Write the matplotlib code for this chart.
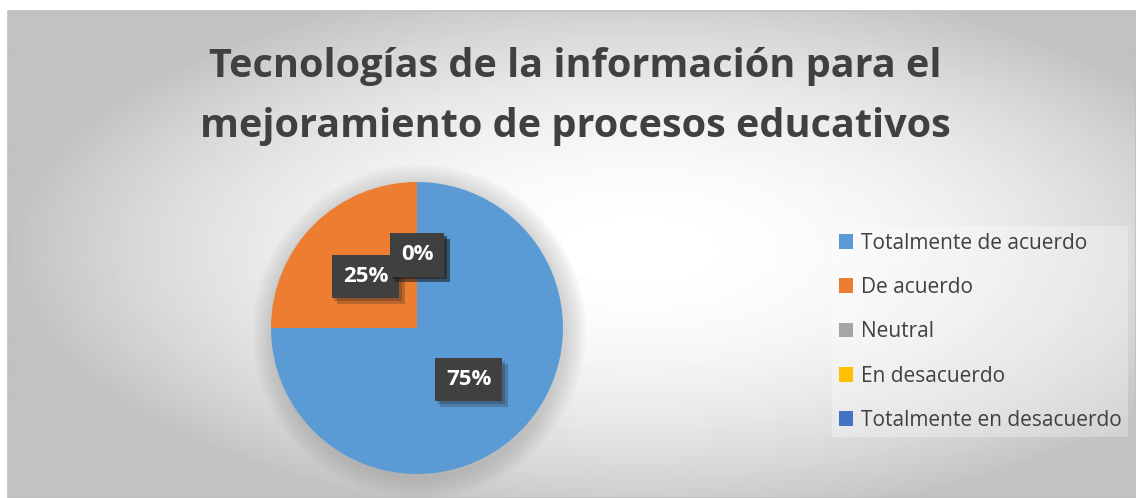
import numpy as np
import matplotlib
matplotlib.use('Agg')
import matplotlib.pyplot as plt
import matplotlib.patheffects as pe

# chart data
categories = ['Totalmente de acuerdo', 'De acuerdo', 'Neutral',
              'En desacuerdo', 'Totalmente en desacuerdo']
values = [75, 25, 0, 0, 0]
colors = ['#5B9BD5', '#ED7D31', '#A5A5A5', '#FFC000', '#4472C4']
title = 'Tecnologías de la información para el\nmejoramiento de procesos educativos'

W, H = 1136, 498
fig = plt.figure(figsize=(W / 100, H / 100), dpi=100)
fig.patch.set_facecolor('white')

# chart area background: radial grey gradient, white in the middle
x0, y0 = 8, 11
bg = fig.add_axes([x0 / W, 0, (W - x0) / W, (H - y0) / H])
xx, yy = np.meshgrid(np.arange(x0, W), np.arange(y0, H))
r2 = ((xx - 640) / 560.0) ** 2 + ((yy - 250) / 245.0) ** 2
grey = np.clip(1 - 0.19 * r2, 0.76, 1)
bg.imshow(grey, cmap='gray', vmin=0, vmax=1, aspect='auto', interpolation='bilinear')
bg.set_axis_off()
bg.add_patch(plt.Rectangle((0, 0), 1, 1, transform=bg.transAxes, fill=False,
                           edgecolor='#bfbfbf', lw=1.2, clip_on=False))

fig.text(575 / W, 1 - 97 / H, title, ha='center', va='center',
         fontsize=28.5, fontweight='bold', color='#404040',
         family='Open Sans', linespacing=1.7)

# pie axes, center (417, 328), radius 146
cx, cy, rad = 417, 328, 146
ax = fig.add_axes([(cx - rad) / W, 1 - (cy + rad) / H, 2 * rad / W, 2 * rad / H])
ax.set_axis_off()

# soft glow around the pie
for k in range(12):
    ax.add_patch(plt.Circle((0.015, -0.025), 1.0 + 0.012 * (12 - k), color='#707070',
                            alpha=0.022, lw=0, zorder=0, clip_on=False))

wedges, texts, autotexts = ax.pie(values, colors=colors, startangle=90,
                                  counterclock=False, radius=1.0,
                                  autopct='%1.0f%%', pctdistance=0.5,
                                  wedgeprops=dict(linewidth=0))
ax.set_xlim(-1, 1)
ax.set_ylim(-1, 1)
for t in autotexts:
    t.set_color('white')
    t.set_fontsize(16)
    t.set_fontweight('bold')
    t.set_family('Open Sans')
    t.set_bbox(dict(boxstyle='square,pad=0.5', facecolor='#404040',
                    edgecolor='none'))
    t.get_bbox_patch().set_path_effects([
        pe.withSimplePatchShadow(offset=(4, -4), shadow_rgbFace='#202020', alpha=0.25),
        pe.withSimplePatchShadow(offset=(2, -2), shadow_rgbFace='#202020', alpha=0.25),
        pe.Normal()])
    t.set_zorder(5)

# legend
handles = [plt.Rectangle((0, 0), 1, 1, facecolor=c, edgecolor='none') for c in colors]
leg = fig.legend(handles, categories, loc='upper left',
                 bbox_to_anchor=(822 / W, 1 - 216 / H),
                 frameon=True, fancybox=False, handlelength=0.7, handleheight=0.7,
                 handletextpad=0.35, labelspacing=1.12, borderpad=0.3,
                 prop={'family': 'Open Sans', 'size': 15})
leg.get_frame().set_facecolor('white')
leg.get_frame().set_alpha(0.3)
leg.get_frame().set_edgecolor('none')
for t in leg.get_texts():
    t.set_color('#404040')

fig.savefig('out.png', dpi=100)
